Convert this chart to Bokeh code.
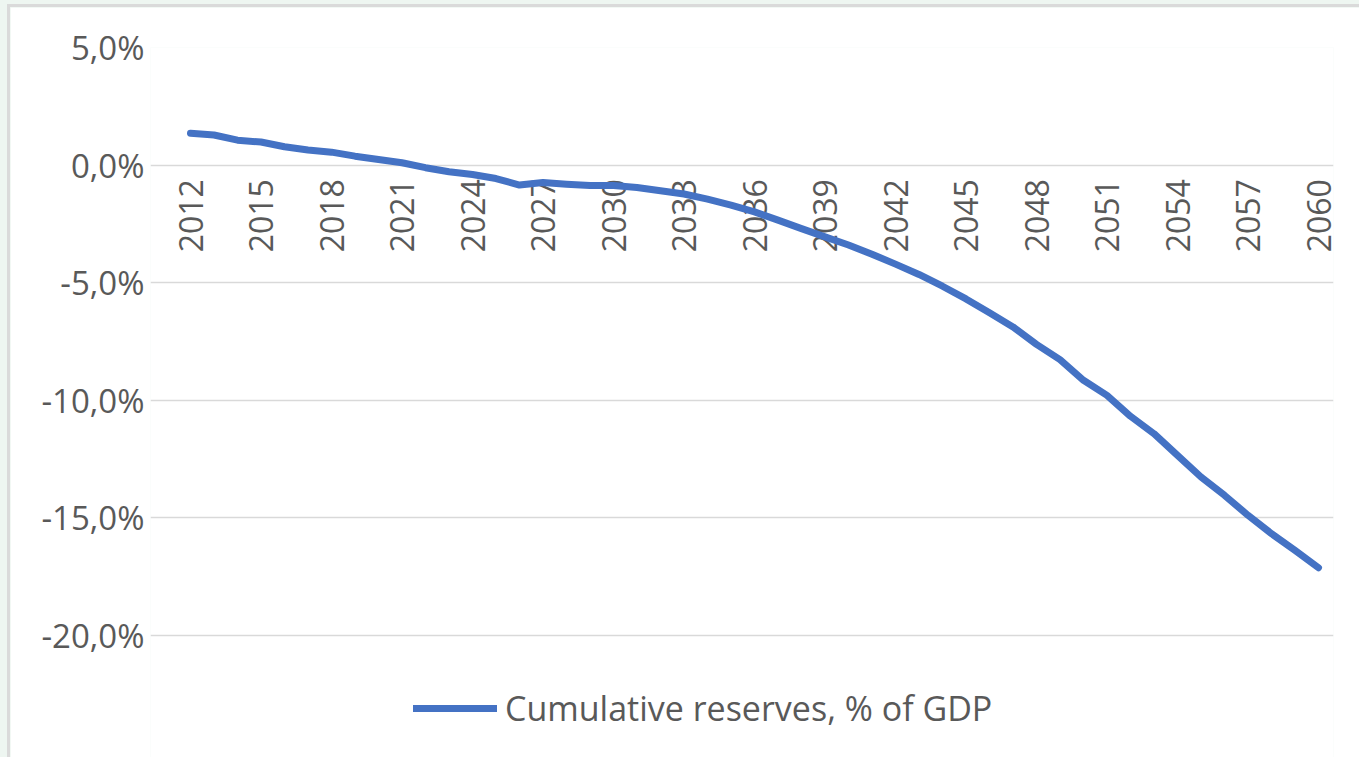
import math
from bokeh.plotting import figure
from bokeh.layouts import column
from bokeh.models import Range1d, FixedTicker, CustomJSTickFormatter, Legend, LegendItem, ColumnDataSource
from bokeh.core.properties import value
from bokeh.embed import file_html
from bokeh.resources import INLINE

# ---- data ----
years = list(range(2012, 2061))
reserves_pct = [
    1.35, 1.28, 1.06, 0.98, 0.78, 0.64, 0.55, 0.38, 0.24, 0.10,
    -0.11, -0.28, -0.40, -0.57, -0.85, -0.74, -0.81, -0.87, -0.87, -0.95,
    -1.09, -1.23, -1.45, -1.70, -1.99, -2.34, -2.70, -3.05, -3.40, -3.79,
    -4.21, -4.65, -5.15, -5.69, -6.28, -6.88, -7.62, -8.27, -9.15, -9.79,
    -10.68, -11.42, -12.34, -13.26, -14.04, -14.89, -15.67, -16.38, -17.12,
]
series_name = "Cumulative reserves, % of GDP"
y_ticks = [-20, -15, -10, -5, 0, 5]
x_tick_years = list(range(2012, 2061, 3))
x_tick_labels = [str(y) for y in x_tick_years]
axis_crossing = 0.0

FONT = "Open Sans"
TEXT_COLOR = "#595959"
LINE_COLOR = "#4472C4"

W, H = 1352, 753
p = figure(
    width=W, height=H,
    output_backend="svg", toolbar_location=None,
    x_axis_location=None,
    x_range=Range1d(2012 - 40 / 23.5, 2060 + 15 / 23.5),
    y_range=Range1d(5 - (H - 40) / 23.52, 5),
    min_border_left=140, min_border_right=W - 140 - 1183,
    min_border_top=40, min_border_bottom=0,
    styles={"border-left": "3px solid #dadada", "border-top": "3px solid #dadada"},
)
p.outline_line_color = None
p.background_fill_color = "white"
p.border_fill_color = "white"

# y axis
p.yaxis.ticker = FixedTicker(ticks=y_ticks)
p.yaxis.formatter = CustomJSTickFormatter(code="return tick.toFixed(1).replace('.', ',') + '%';")
p.yaxis.axis_line_color = None
p.yaxis.major_tick_line_color = None
p.yaxis.minor_tick_line_color = None
p.yaxis.major_label_text_font = FONT
p.yaxis.major_label_text_font_size = "33px"
p.yaxis.major_label_text_color = TEXT_COLOR
p.yaxis.major_label_standoff = 0

p.xgrid.visible = False
p.ygrid.ticker = FixedTicker(ticks=y_ticks)
p.ygrid.grid_line_color = "#d9d9d9"
p.ygrid.grid_line_width = 1.5

# category labels along the zero line
lab_src = ColumnDataSource(dict(x=x_tick_years, y=[axis_crossing] * len(x_tick_years), t=x_tick_labels))
p.text(x="x", y="y", text="t", source=lab_src, angle=math.pi / 2,
       text_align="right", text_baseline="middle", y_offset=14,
       text_font=value(FONT), text_font_size="32px", text_color=TEXT_COLOR)

src = ColumnDataSource(dict(x=years, y=reserves_pct))
r = p.line(x="x", y="y", source=src, line_color=LINE_COLOR, line_width=7,
           line_cap="round", line_join="round")

legend = Legend(items=[LegendItem(label=series_name, renderers=[r])],
                location=(263, 29), orientation="horizontal",
                glyph_width=84, glyph_height=20, label_standoff=8,
                padding=0, margin=0, spacing=0,
                border_line_color=None, background_fill_alpha=0,
                label_text_font=FONT, label_text_font_size="34px",
                label_text_color=TEXT_COLOR)
p.add_layout(legend)

page = column(p, styles={"background-color": "#eef6f1", "padding-left": "7px", "padding-top": "4px"})

open("out.html", "w").write(file_html(page, INLINE))
